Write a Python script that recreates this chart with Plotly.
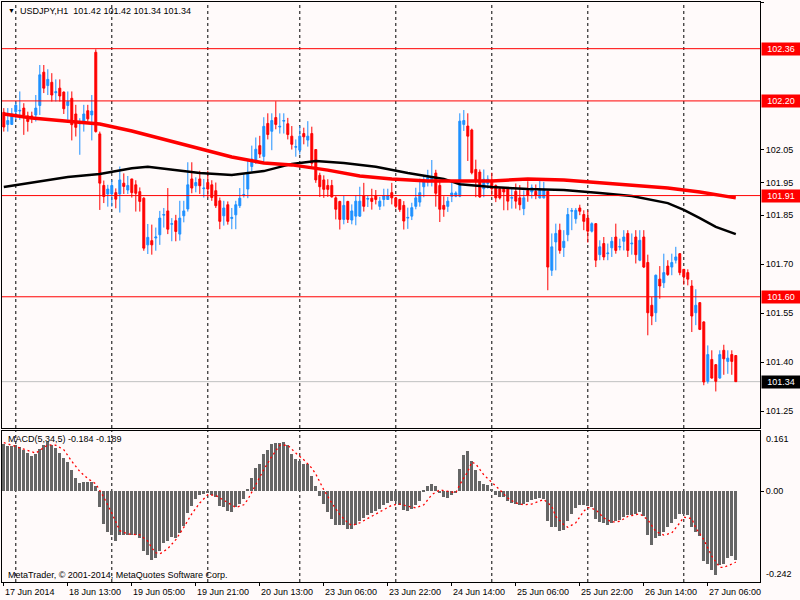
import plotly.graph_objects as go

# ---- data ----
bar_idx = list(range(184))

opens = [
    102.165, 102.128, 102.128, 102.167, 102.169, 102.178, 102.154, 102.154, 102.157, 102.186,
    102.288, 102.247, 102.257, 102.225, 102.239, 102.227, 102.186, 102.208, 102.160, 102.130,
    102.137, 102.170, 102.157, 102.349, 102.099, 101.941, 101.915, 101.915, 101.919, 101.915,
    101.948, 101.927, 101.961, 101.943, 101.922, 101.902, 101.759, 101.772, 101.780, 101.790,
    101.850, 101.863, 101.822, 101.833, 101.792, 101.848, 101.869, 101.961, 101.940, 101.961,
    101.931, 101.950, 101.943, 101.925, 101.894, 101.848, 101.882, 101.840, 101.851, 101.879,
    101.911, 101.930, 101.999, 102.012, 102.063, 102.030, 102.131, 102.107, 102.149, 102.120,
    102.138, 102.130, 102.092, 102.058, 102.049, 102.100, 102.080, 102.100, 102.051, 101.972,
    101.958, 101.941, 101.941, 101.903, 101.892, 101.837, 101.892, 101.835, 101.847, 101.847,
    101.910, 101.899, 101.902, 101.910, 101.877, 101.898, 101.898, 101.919, 101.903, 101.898,
    101.880, 101.841, 101.847, 101.877, 101.890, 101.937, 101.954, 101.954, 101.979, 101.941,
    101.880, 101.877, 101.908, 101.908, 101.908, 102.128, 102.123, 102.111, 101.990, 101.982,
    101.931, 101.947, 101.957, 101.941, 101.931, 101.934, 101.934, 101.902, 101.923, 101.903,
    101.870, 101.926, 101.921, 101.923, 101.903, 101.903, 101.923, 101.681, 101.768, 101.804,
    101.751, 101.790, 101.862, 101.839, 101.872, 101.852, 101.841, 101.801, 101.824, 101.729,
    101.763, 101.732, 101.750, 101.783, 101.752, 101.770, 101.794, 101.762, 101.783, 101.712,
    101.783, 101.705, 101.574, 101.551, 101.654, 101.643, 101.694, 101.691, 101.712, 101.732,
    101.684, 101.674, 101.633, 101.551, 101.582, 101.523, 101.341, 101.408, 101.392, 101.351,
    101.436, 101.402, 101.423, 101.420,
]
highs = [
    102.178, 102.178, 102.178, 102.198, 102.229, 102.193, 102.167, 102.167, 102.218, 102.310,
    102.310, 102.297, 102.285, 102.266, 102.266, 102.229, 102.229, 102.229, 102.188, 102.147,
    102.188, 102.188, 102.218, 102.358, 102.106, 101.956, 101.943, 101.958, 101.932, 101.999,
    101.978, 101.970, 101.961, 101.957, 101.935, 101.905, 101.823, 101.821, 101.812, 101.863,
    101.872, 101.933, 101.841, 101.851, 101.894, 101.894, 102.012, 102.012, 101.966, 101.986,
    101.961, 101.986, 101.957, 101.950, 101.904, 101.894, 101.892, 101.872, 101.894, 101.933,
    101.978, 102.022, 102.063, 102.088, 102.093, 102.150, 102.162, 102.162, 102.199, 102.162,
    102.162, 102.148, 102.123, 102.082, 102.123, 102.118, 102.138, 102.121, 102.051, 101.980,
    101.972, 101.960, 101.958, 101.908, 101.894, 101.909, 101.894, 101.883, 101.910, 101.937,
    101.949, 101.910, 101.931, 101.927, 101.906, 101.931, 101.931, 101.949, 101.905, 101.900,
    101.893, 101.873, 101.888, 101.934, 101.962, 101.972, 101.989, 102.019, 101.989, 101.954,
    101.908, 101.906, 101.951, 101.923, 102.162, 102.172, 102.162, 102.115, 102.020, 101.990,
    101.990, 101.972, 101.980, 101.944, 101.935, 101.935, 101.935, 101.934, 101.947, 101.942,
    101.926, 101.954, 101.944, 101.944, 101.962, 101.952, 101.925, 101.794, 101.824, 101.824,
    101.804, 101.872, 101.872, 101.872, 101.882, 101.865, 101.865, 101.828, 101.826, 101.773,
    101.783, 101.763, 101.783, 101.824, 101.778, 101.804, 101.804, 101.794, 101.804, 101.804,
    101.804, 101.729, 101.599, 101.668, 101.694, 101.732, 101.712, 101.732, 101.753, 101.734,
    101.685, 101.684, 101.651, 101.623, 101.584, 101.525, 101.451, 101.436, 101.394, 101.436,
    101.453, 101.436, 101.436, 101.420,
]
lows = [
    102.106, 102.106, 102.127, 102.142, 102.142, 102.096, 102.106, 102.132, 102.137, 102.157,
    102.224, 102.218, 102.198, 102.198, 102.198, 102.160, 102.142, 102.079, 102.091, 102.035,
    102.106, 102.137, 102.079, 102.103, 101.866, 101.887, 101.876, 101.876, 101.871, 101.858,
    101.915, 101.915, 101.904, 101.861, 101.861, 101.741, 101.731, 101.729, 101.741, 101.759,
    101.812, 101.792, 101.770, 101.770, 101.772, 101.828, 101.861, 101.917, 101.920, 101.915,
    101.904, 101.904, 101.894, 101.872, 101.807, 101.818, 101.821, 101.807, 101.807, 101.872,
    101.904, 101.902, 101.984, 102.007, 102.025, 102.007, 102.082, 102.049, 102.113, 102.100,
    102.100, 102.082, 102.051, 102.029, 102.036, 102.067, 102.060, 102.000, 101.949, 101.906,
    101.903, 101.906, 101.904, 101.837, 101.806, 101.822, 101.826, 101.822, 101.819, 101.845,
    101.861, 101.875, 101.867, 101.883, 101.866, 101.877, 101.897, 101.883, 101.871, 101.860,
    101.806, 101.808, 101.835, 101.868, 101.876, 101.905, 101.938, 101.938, 101.876, 101.829,
    101.845, 101.860, 101.890, 101.905, 101.905, 102.108, 102.016, 101.975, 101.905, 101.903,
    101.905, 101.931, 101.908, 101.890, 101.898, 101.865, 101.865, 101.870, 101.870, 101.865,
    101.850, 101.891, 101.901, 101.899, 101.901, 101.901, 101.620, 101.664, 101.681, 101.732,
    101.722, 101.770, 101.804, 101.824, 101.850, 101.804, 101.766, 101.797, 101.691, 101.712,
    101.712, 101.712, 101.722, 101.732, 101.742, 101.742, 101.722, 101.729, 101.702, 101.709,
    101.688, 101.482, 101.513, 101.523, 101.594, 101.627, 101.664, 101.666, 101.702, 101.666,
    101.637, 101.635, 101.492, 101.513, 101.498, 101.329, 101.334, 101.349, 101.310, 101.349,
    101.361, 101.364, 101.361, 101.340,
]
closes = [
    102.120, 102.140, 102.160, 102.187, 102.171, 102.157, 102.137, 102.147, 102.178, 102.280,
    102.239, 102.266, 102.218, 102.228, 102.215, 102.176, 102.198, 102.127, 102.119, 102.133,
    102.160, 102.145, 102.169, 102.106, 101.948, 101.907, 101.930, 101.941, 101.899, 101.958,
    101.938, 101.941, 101.919, 101.917, 101.892, 101.749, 101.782, 101.759, 101.783, 101.841,
    101.852, 101.807, 101.824, 101.800, 101.841, 101.863, 101.943, 101.933, 101.950, 101.940,
    101.933, 101.930, 101.904, 101.879, 101.831, 101.872, 101.831, 101.843, 101.882, 101.902,
    101.913, 101.981, 102.022, 102.052, 102.037, 102.122, 102.097, 102.140, 102.128, 102.122,
    102.140, 102.097, 102.067, 102.060, 102.092, 102.090, 102.092, 102.009, 101.958, 101.937,
    101.929, 101.929, 101.906, 101.868, 101.837, 101.880, 101.837, 101.863, 101.893, 101.893,
    101.877, 101.901, 101.892, 101.898, 101.893, 101.910, 101.910, 101.903, 101.877, 101.867,
    101.832, 101.843, 101.873, 101.903, 101.919, 101.952, 101.966, 101.967, 101.917, 101.868,
    101.868, 101.893, 101.918, 101.918, 102.138, 102.140, 102.092, 101.980, 101.958, 101.906,
    101.960, 101.960, 101.931, 101.903, 101.903, 101.921, 101.893, 101.904, 101.893, 101.882,
    101.903, 101.911, 101.934, 101.911, 101.926, 101.926, 101.691, 101.753, 101.794, 101.742,
    101.770, 101.852, 101.864, 101.865, 101.862, 101.831, 101.801, 101.824, 101.712, 101.753,
    101.722, 101.734, 101.770, 101.742, 101.754, 101.783, 101.742, 101.764, 101.729, 101.773,
    101.691, 101.551, 101.541, 101.666, 101.633, 101.674, 101.668, 101.705, 101.722, 101.674,
    101.661, 101.654, 101.541, 101.574, 101.500, 101.339, 101.423, 101.351, 101.341, 101.423,
    101.410, 101.412, 101.402, 101.340,
]

# moving averages (read at sample bars)
ma_red_idx = [0, 7, 16, 24, 32, 40, 49, 57, 65, 72, 81, 89, 97, 106, 114, 122, 131, 140, 149,
              157, 166, 174, 183]
ma_red_val = [102.160, 102.148, 102.138, 102.129, 102.108, 102.083, 102.053, 102.028, 102.010,
              102.004, 101.988, 101.970, 101.961, 101.955, 101.955, 101.955, 101.961, 101.958,
              101.949, 101.942, 101.933, 101.921, 101.903]
ma_black_idx = [0, 7, 16, 24, 32, 36, 41, 49, 57, 61, 65, 72, 78, 85, 93, 101, 110, 114, 122,
                131, 140, 149, 157, 166, 170, 174, 178, 183]
ma_black_val = [101.936, 101.949, 101.967, 101.976, 101.994, 101.998, 101.991, 101.979, 101.973,
                101.979, 101.985, 102.007, 102.016, 102.010, 101.998, 101.979, 101.961, 101.945,
                101.936, 101.930, 101.927, 101.918, 101.909, 101.887, 101.866, 101.841, 101.814,
                101.792]

# MACD(5,34,5) histogram and signal
macd_main = [
    0.127, 0.120, 0.120, 0.123, 0.117, 0.111, 0.102, 0.093, 0.100, 0.114,
    0.124, 0.132, 0.123, 0.116, 0.102, 0.089, 0.078, 0.058, 0.036, 0.022,
    0.024, 0.024, 0.025, 0.013, -0.043, -0.087, -0.108, -0.117, -0.132, -0.117,
    -0.116, -0.116, -0.116, -0.117, -0.124, -0.158, -0.171, -0.182, -0.178, -0.158,
    -0.138, -0.133, -0.123, -0.124, -0.111, -0.093, -0.058, -0.040, -0.020, -0.011,
    -0.007, -0.004, -0.009, -0.016, -0.040, -0.043, -0.053, -0.055, -0.043, -0.034,
    -0.020, 0.007, 0.036, 0.062, 0.073, 0.100, 0.111, 0.126, 0.129, 0.129,
    0.132, 0.123, 0.100, 0.087, 0.080, 0.073, 0.073, 0.040, 0.013, -0.013,
    -0.034, -0.055, -0.073, -0.089, -0.091, -0.091, -0.100, -0.100, -0.091, -0.080,
    -0.071, -0.064, -0.058, -0.052, -0.046, -0.037, -0.031, -0.027, -0.027, -0.036,
    -0.049, -0.052, -0.046, -0.036, -0.025, 0.004, 0.013, 0.020, 0.013, -0.004,
    -0.016, -0.018, -0.009, -0.005, 0.060, 0.098, 0.108, 0.082, 0.058, 0.028,
    0.020, 0.018, 0.007, -0.009, -0.016, -0.016, -0.027, -0.031, -0.034, -0.036,
    -0.034, -0.028, -0.022, -0.020, -0.018, -0.020, -0.078, -0.096, -0.096, -0.105,
    -0.102, -0.080, -0.060, -0.044, -0.036, -0.036, -0.040, -0.043, -0.073, -0.082,
    -0.084, -0.091, -0.084, -0.080, -0.076, -0.069, -0.064, -0.064, -0.060, -0.055,
    -0.067, -0.116, -0.144, -0.124, -0.120, -0.108, -0.096, -0.084, -0.073, -0.060,
    -0.060, -0.064, -0.096, -0.108, -0.118, -0.187, -0.194, -0.209, -0.224, -0.196,
    -0.194, -0.178, -0.173, -0.184,
]
signal_idx = [0, 4, 8, 11, 13, 15, 17, 19, 21, 23, 25, 27, 28, 29, 31, 34, 36, 37, 38, 39, 41,
              43, 45, 47, 49, 51, 53, 56, 58, 60, 61, 63, 65, 67, 69, 71, 73, 75, 77, 78, 80,
              82, 84, 86, 87, 89, 91, 93, 95, 97, 99, 101, 103, 105, 107, 109, 111, 113, 114,
              116, 117, 118, 120, 122, 124, 126, 128, 130, 132, 135, 137, 138, 140, 141, 143,
              145, 146, 148, 150, 152, 154, 156, 159, 161, 163, 165, 167, 169, 170, 172, 173,
              175, 177, 179, 180, 182, 183]
signal_val = [0.130, 0.117, 0.102, 0.124, 0.123, 0.111, 0.080, 0.053, 0.034, 0.020, -0.016,
              -0.058, -0.084, -0.105, -0.114, -0.116, -0.133, -0.151, -0.164, -0.167, -0.153,
              -0.129, -0.096, -0.060, -0.031, -0.009, -0.011, -0.031, -0.043, -0.036, -0.022,
              0.018, 0.058, 0.093, 0.123, 0.123, 0.102, 0.084, 0.062, 0.046, 0.004,
              -0.031, -0.062, -0.084, -0.091, -0.084, -0.073, -0.060, -0.049, -0.037, -0.034,
              -0.040, -0.044, -0.036, -0.009, 0.004, 0.000, -0.004, 0.018,
              0.053, 0.078, 0.073, 0.044, 0.025, 0.004, -0.018, -0.031, -0.036, -0.034, -0.022,
              -0.040, -0.067, -0.089, -0.096, -0.084, -0.053, -0.043, -0.049, -0.071, -0.082,
              -0.080, -0.067, -0.060, -0.076, -0.107, -0.117, -0.111, -0.084, -0.069, -0.073,
              -0.098, -0.129, -0.173, -0.203, -0.203, -0.194, -0.189]

# levels, scale and time labels
level_lines = [102.36, 102.20, 101.91, 101.60]
bid_price = 101.34
price_ticks = [102.50, 102.05, 101.95, 101.85, 101.70, 101.55, 101.40, 101.25]
macd_top, macd_bottom = 0.161, -0.242
day_starts = [3, 27, 51, 74, 98, 122, 146, 170]
label_idx = [0, 16, 32, 48, 64, 80, 96, 112, 128, 144, 160, 176]
label_text = ["17 Jun 2014", "18 Jun 13:00", "19 Jun 05:00", "19 Jun 21:00", "20 Jun 13:00",
              "23 Jun 06:00", "23 Jun 22:00", "24 Jun 14:00", "25 Jun 06:00", "25 Jun 22:00",
              "26 Jun 14:00", "27 Jun 06:00"]

# ---- figure ----
W, H = 800, 600
ML, MR, MT, MB = 2, 40, 2, 18
BG = "#FFFAFA"
FONT = "Liberation Sans, Arial, sans-serif"
X_RANGE = [-0.45, 189.05]  # 4 px per bar, offset so bar edges land on whole pixels


def fx(px):
    return (px - ML) / (W - ML - MR)


def fy(py):
    return (H - MB - py) / (H - MT - MB)


fig = go.Figure()

fig.add_trace(go.Candlestick(
    x=bar_idx, open=opens, high=highs, low=lows, close=closes,
    increasing=dict(line=dict(color="#1E90FF", width=1), fillcolor="#1E90FF"),
    decreasing=dict(line=dict(color="#FF0000", width=1), fillcolor="#FF0000"),
    whiskerwidth=0, hoverinfo="skip", xaxis="x", yaxis="y",
))
fig.add_trace(go.Scatter(x=ma_black_idx, y=ma_black_val, mode="lines",
                         line=dict(color="#000000", width=2.5), xaxis="x", yaxis="y"))
fig.add_trace(go.Scatter(x=ma_red_idx, y=ma_red_val, mode="lines",
                         line=dict(color="#FF0000", width=3.5), xaxis="x", yaxis="y"))

fig.add_trace(go.Bar(x=bar_idx, y=macd_main, width=0.75, marker=dict(color="#666666", line_width=0),
                     xaxis="x2", yaxis="y2"))
fig.add_trace(go.Scatter(x=signal_idx, y=signal_val, mode="lines",
                         line=dict(color="#FF0000", width=1.3, dash="2px,3px"),
                         xaxis="x2", yaxis="y2"))

shapes = []
for d in day_starts:
    for yr in ("y domain", "y2 domain"):
        shapes.append(dict(type="line", xref="x", yref=yr, x0=d, x1=d, y0=0, y1=1,
                           line=dict(color="black", width=1, dash="3px,3px"), layer="below"))
for lv in level_lines:
    shapes.append(dict(type="line", xref="x domain", yref="y", x0=0, x1=1, y0=lv, y1=lv,
                       line=dict(color="#FF0000", width=1)))
shapes.append(dict(type="line", xref="x domain", yref="y", x0=0, x1=1, y0=bid_price, y1=bid_price,
                   line=dict(color="#C0C0C0", width=1), layer="below"))

ann = []
small = dict(family=FONT, size=9, color="black")
ann.append(dict(xref="paper", yref="paper", x=fx(6), y=fy(11), xanchor="left", yanchor="middle",
                text="▼", showarrow=False, font=dict(family=FONT, size=7, color="black")))
ann.append(dict(xref="paper", yref="paper", x=fx(18), y=fy(11), xanchor="left", yanchor="middle",
                text="USDJPY,H1  %.2f %.2f %.2f %.2f" % (opens[-1], highs[-1], lows[-1], closes[-1]),
                showarrow=False, font=small))
ann.append(dict(xref="paper", yref="paper", x=fx(6), y=fy(439), xanchor="left", yanchor="middle",
                text="MACD(5,34,5) %.3f %.3f" % (macd_main[-1], signal_val[-1]),
                showarrow=False, font=small))
ann.append(dict(xref="paper", yref="paper", x=fx(6), y=fy(575), xanchor="left", yanchor="middle",
                text="MetaTrader, © 2001-2014, MetaQuotes Software Corp.",
                showarrow=False, font=small))
for i, t in zip(label_idx, label_text):
    ann.append(dict(xref="x", yref="paper", x=i - 0.3, y=fy(592), xanchor="left", yanchor="middle",
                    text=t, showarrow=False, font=small))
for lv in level_lines:
    ann.append(dict(xref="paper", yref="y", x=1, y=lv, xanchor="left", yanchor="middle", xshift=1,
                    text="%.2f" % lv, showarrow=False, bgcolor="#FF0000", borderpad=1,
                    font=dict(family=FONT, size=9, color="white"), width=36))
ann.append(dict(xref="paper", yref="y", x=1, y=bid_price, xanchor="left", yanchor="middle", xshift=1,
                text="%.2f" % bid_price, showarrow=False, bgcolor="#000000", borderpad=1,
                font=dict(family=FONT, size=9, color="white"), width=36))
ann.append(dict(xref="paper", yref="y2 domain", x=1, y=1, xanchor="left", yanchor="top",
                xshift=4, yshift=-1, text="%.3f" % macd_top, showarrow=False, font=small))
ann.append(dict(xref="paper", yref="y2 domain", x=1, y=0, xanchor="left", yanchor="bottom",
                xshift=4, yshift=1, text="%.3f" % macd_bottom, showarrow=False, font=small))

axis_common = dict(showgrid=False, zeroline=False, showline=True, mirror=True,
                   linecolor="black", linewidth=1, fixedrange=True)

fig.update_layout(
    width=W, height=H,
    margin=dict(l=ML, r=MR, t=MT, b=MB),
    paper_bgcolor=BG, plot_bgcolor=BG,
    showlegend=False, bargap=0,
    font=small,
    xaxis=dict(domain=[0, 1], range=X_RANGE, anchor="y", showticklabels=False,
               rangeslider=dict(visible=False), **axis_common),
    xaxis2=dict(domain=[0, 1], range=X_RANGE, anchor="y2", matches="x", showticklabels=False,
                ticks="outside", ticklen=3, tickcolor="black", tickvals=label_idx, **axis_common),
    yaxis=dict(domain=[fy(428), 1], range=[101.198, 102.503], anchor="x", side="right",
               tickvals=price_ticks, ticktext=["%.2f" % v for v in price_ticks],
               ticks="outside", ticklen=3, tickcolor="black", **axis_common),
    yaxis2=dict(domain=[0, fy(431)], range=[macd_bottom, macd_top], anchor="x2", side="right",
                tickvals=[0], ticktext=["0.00"], ticks="outside", ticklen=3, tickcolor="black",
                **axis_common),
    shapes=shapes,
    annotations=ann,
)

# the page body has a default margin; remove it so the chart fills the window exactly
fig.write_html("out.html", config={"displayModeBar": False},
               post_script="document.body.style.margin='0px';"
                           "document.body.style.overflow='hidden';"
                           "document.body.style.background='%s';" % BG)
